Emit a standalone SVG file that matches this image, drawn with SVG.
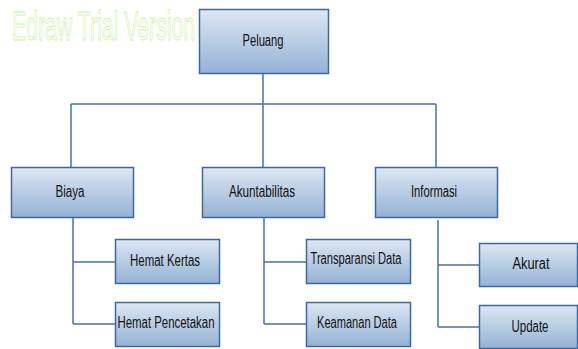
<svg xmlns="http://www.w3.org/2000/svg" width="578" height="349" viewBox="0 0 578 349">
  <defs>
    <linearGradient id="boxFill" x1="0" y1="0" x2="0" y2="1">
      <stop offset="0" stop-color="#dde7f2"/>
      <stop offset="1" stop-color="#94b2d6"/>
    </linearGradient>
    <style>
      .box { fill: url(#boxFill); stroke: #40689b; stroke-width: 1.5; }
      .lbl { font-family: "Liberation Sans", Arial, sans-serif; font-size: 16px; fill: #111; text-anchor: middle; }
      .wire { fill: none; stroke: #4b70a3; stroke-width: 1.5; }
      .mark { font-family: "Liberation Sans", Arial, sans-serif; font-size: 40px; fill: #fbfff6; stroke: #cdf2b0; stroke-width: 0.9; }
    </style>
  </defs>

  <rect width="578" height="349" fill="#ffffff"/>

  <!-- outlined watermark, squeezed horizontally -->
  <text class="mark" transform="translate(12 40) scale(0.532 1)" x="0" y="0">Edraw Trial Version</text>

  <g id="connectors">
    <path class="wire" d="M263 73 V104 M71 104 H436 M71 104 V167 M263 104 V167 M436 104 V167"/>
    <path class="wire" d="M73 217 V324 M73 262 H115 M73 324 H115"/>
    <path class="wire" d="M264 217 V324 M264 262 H306 M264 324 H306"/>
    <path class="wire" d="M438 220 V327 M438 265 H479 M438 327 H479"/>
  </g>

  <g id="peluang">
    <rect class="box" x="199.5" y="9.5" width="129" height="64"/>
    <text class="lbl" x="263" y="46" textLength="41" lengthAdjust="spacingAndGlyphs">Peluang</text>
  </g>
  <g id="biaya">
    <rect class="box" x="11.5" y="167.5" width="122" height="50"/>
    <text class="lbl" x="70" y="197" textLength="29" lengthAdjust="spacingAndGlyphs">Biaya</text>
  </g>
  <g id="akuntabilitas">
    <rect class="box" x="202.5" y="167.5" width="122" height="50"/>
    <text class="lbl" x="262" y="197" textLength="66" lengthAdjust="spacingAndGlyphs">Akuntabilitas</text>
  </g>
  <g id="informasi">
    <rect class="box" x="375.5" y="167.5" width="122" height="50"/>
    <text class="lbl" x="434" y="197" textLength="46" lengthAdjust="spacingAndGlyphs">Informasi</text>
  </g>
  <g id="hemat-kertas">
    <rect class="box" x="115.5" y="239.5" width="104" height="44"/>
    <text class="lbl" x="165" y="266" textLength="70" lengthAdjust="spacingAndGlyphs">Hemat Kertas</text>
  </g>
  <g id="hemat-pencetakan">
    <rect class="box" x="115.5" y="302.5" width="104" height="44"/>
    <text class="lbl" x="166" y="328" textLength="97" lengthAdjust="spacingAndGlyphs">Hemat Pencetakan</text>
  </g>
  <g id="transparansi-data">
    <rect class="box" x="306.5" y="239.5" width="104" height="44"/>
    <text class="lbl" x="356" y="264" textLength="91" lengthAdjust="spacingAndGlyphs">Transparansi Data</text>
  </g>
  <g id="keamanan-data">
    <rect class="box" x="306.5" y="302.5" width="104" height="44"/>
    <text class="lbl" x="357" y="328" textLength="80" lengthAdjust="spacingAndGlyphs">Keamanan Data</text>
  </g>
  <g id="akurat">
    <rect class="box" x="479.5" y="243.5" width="98" height="43"/>
    <text class="lbl" x="531" y="269" textLength="37" lengthAdjust="spacingAndGlyphs">Akurat</text>
  </g>
  <g id="update">
    <rect class="box" x="479.5" y="305.5" width="98" height="43"/>
    <text class="lbl" x="530" y="332" textLength="37" lengthAdjust="spacingAndGlyphs">Update</text>
  </g>
</svg>
